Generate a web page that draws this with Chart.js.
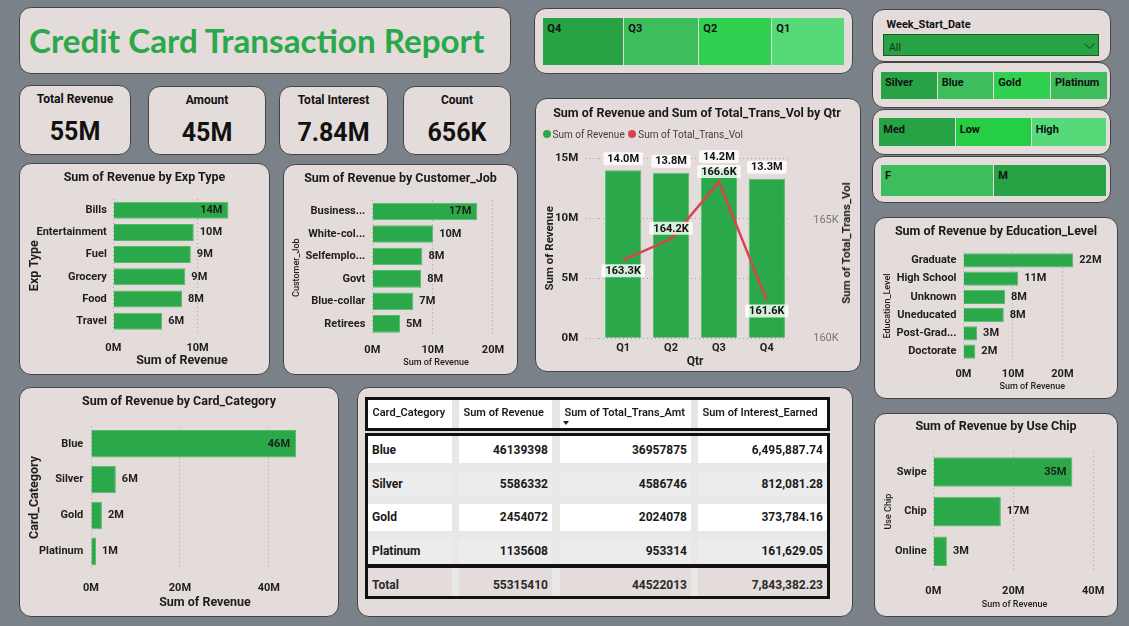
<!DOCTYPE html>
<html>
<head>
<meta charset="utf-8">
<script src="https://cdn.jsdelivr.net/npm/chart.js@4.4.1/dist/chart.umd.min.js"></script>
<style>
  html, body { margin: 0; padding: 0; }
  body { width: 1129px; height: 626px; background: #7b8189; position: relative; overflow: hidden;
         font-family: Roboto, "DejaVu Sans", sans-serif; color: #1e1e1e; }
  .panel { position: absolute; box-sizing: border-box; background: #e4dcda; border: 1px solid #444; border-radius: 12px; }
  .t { position: absolute; white-space: nowrap; line-height: 1; }
  .r { position: absolute; box-sizing: border-box; }
  .r svg { display: block; }
  canvas { position: absolute; }
</style>
</head>
<body>
<script>
// ---- data ----
const kpiLabels = ["Total Revenue", "Amount", "Total Interest", "Count"];
const kpiValues = ["55M", "45M", "7.84M", "656K"];

const quarters = ["Q1", "Q2", "Q3", "Q4"];
const qtrRevenue = [14.0e6, 13.8e6, 14.2e6, 13.3e6];
const qtrTransVol = [163300, 164200, 166600, 161600];
const revTicks = [0, 5e6, 10e6, 15e6];
const volTicks = [160000, 165000];

const expTypes = ["Bills", "Entertainment", "Fuel", "Grocery", "Food", "Travel"];
const expRevenue = [13.66e6, 9.55e6, 9.2e6, 8.55e6, 8.15e6, 5.8e6];
const expTicks = [0, 10e6];

const jobs = ["Business...", "White-col...", "Selfemplo...", "Govt", "Blue-collar", "Retirees"];
const jobRevenue = [17.4e6, 10.1e6, 8.3e6, 8.1e6, 6.8e6, 4.6e6];
const jobTicks = [0, 10e6, 20e6];

const eduLevels = ["Graduate", "High School", "Unknown", "Uneducated", "Post-Grad...", "Doctorate"];
const eduRevenue = [22.2e6, 11.05e6, 8.4e6, 8.15e6, 2.75e6, 2.4e6];
const eduTicks = [0, 10e6, 20e6];

const chipTypes = ["Swipe", "Chip", "Online"];
const chipRevenue = [34.8e6, 16.9e6, 3.4e6];
const chipTicks = [0, 20e6, 40e6];

const cardCategories = ["Blue", "Silver", "Gold", "Platinum"];
const cardRevenue = [46139398, 5586332, 2454072, 1135608];
const cardTransAmt = [36957875, 4586746, 2024078, 953314];
const cardInterest = [6495887.74, 812081.28, 373784.16, 161629.05];
const cardTicks = [0, 20e6, 40e6];

const qtrSlicer = ["Q4", "Q3", "Q2", "Q1"];
const cardSlicer = ["Silver", "Blue", "Gold", "Platinum"];
const incomeSlicer = ["Med", "Low", "High"];
const genderSlicer = ["F", "M"];

// ---- styles ----
const GREEN = "#2ba84a";
const RED = "#d9434f";
const GRID = "#aaa4a2";
const INK = "#1e1e1e";
Chart.defaults.font.family = "Roboto";
Chart.defaults.color = INK;

function rect(x, y, w, h, bg, extra) {
  const d = document.createElement("div");
  d.className = "r";
  d.style.cssText = `left:${x}px;top:${y}px;width:${w}px;height:${h}px;background:${bg};` + (extra || "");
  document.body.appendChild(d);
  return d;
}
function panel(x, y, w, h) {
  const d = rect(x, y, w, h, "#e4dcda");
  d.className = "panel";
  return d;
}
function txt(str, x, y, style, align) {
  const d = document.createElement("div");
  d.className = "t";
  d.textContent = str;
  d.style.cssText = style + `;left:${x}px;top:${y}px;`;
  const tx = align === "center" ? "-50%" : align === "right" ? "-100%" : "0";
  d.style.transform = `translate(${tx},-50%)`;
  document.body.appendChild(d);
  return d;
}
function canvasAt(x, y, w, h) {
  const c = document.createElement("canvas");
  c.width = w; c.height = h;
  c.style.cssText = `left:${x}px;top:${y}px;width:${w}px;height:${h}px;`;
  document.body.appendChild(c);
  return c;
}
const mFmt = v => v / 1e6 + "M";

// value labels at the end of horizontal bars
const hbarLabels = {
  id: "hbarLabels",
  afterDatasetsDraw(chart) {
    const { ctx, chartArea } = chart;
    const ds = chart.data.datasets[0];
    ctx.save();
    ctx.font = "bold 11px Roboto";
    ctx.fillStyle = INK;
    ctx.textBaseline = "middle";
    chart.getDatasetMeta(0).data.forEach((bar, i) => {
      const s = Math.round(ds.data[i] / 1e6) + "M";
      const w = ctx.measureText(s).width;
      if (bar.x + 6 + w <= chartArea.right + 4) {
        ctx.textAlign = "left"; ctx.fillText(s, bar.x + 6, bar.y);
      } else {
        ctx.textAlign = "right"; ctx.fillText(s, bar.x - 6, bar.y);
      }
    });
    ctx.restore();
  }
};

function hbar(c) {
  const [px, py, pw, ph] = c.box;
  const [l, t, r, b] = c.area;
  const tickLh = c.tickSize * 1.2;
  const xl = c.xTitle.size * 1.2, yl = c.yTitle.size * 1.2;
  new Chart(canvasAt(px, py, pw, ph), {
    type: "bar",
    data: {
      labels: c.labels,
      datasets: [{ data: c.values, backgroundColor: GREEN, borderColor: "#55bb69", borderWidth: 1,
                   barPercentage: c.barPct, categoryPercentage: 1 }]
    },
    options: {
      indexAxis: "y", responsive: false, animation: false,
      layout: { padding: { left: 0, top: t - py, right: px + pw - r, bottom: 0 } },
      plugins: { legend: { display: false }, tooltip: { enabled: false } },
      scales: {
        x: {
          min: 0, max: c.max,
          afterBuildTicks: s => { s.ticks = c.ticks.map(v => ({ value: v })); },
          afterFit: s => { s.height = py + ph - b; },
          ticks: { padding: c.xTickY - b - tickLh / 2, font: { size: c.tickSize, weight: "bold" }, color: INK, callback: mFmt },
          grid: { color: GRID, drawTicks: false },
          border: { display: false, dash: [1, 3] },
          title: { display: true, text: c.xTitle.text, color: INK,
                   font: { size: c.xTitle.size, weight: c.xTitle.weight },
                   padding: { top: 0, bottom: py + ph - c.xTitle.y - xl / 2 } }
        },
        y: {
          afterFit: s => { s.width = l - px; },
          ticks: { padding: c.catPad, font: { size: c.catSize, weight: "bold" }, color: INK },
          grid: { display: false, drawTicks: false },
          border: { display: false },
          title: { display: true, text: c.yTitle.text, color: INK,
                   font: { size: c.yTitle.size, weight: c.yTitle.weight },
                   padding: { top: c.yTitle.x - px - yl / 2, bottom: 0 } }
        }
      }
    },
    plugins: [hbarLabels]
  });
}

// ---- header + KPI cards ----
panel(19, 7, 492, 67);
txt("Credit Card Transaction Report", 29, 40, "font:700 33.2px Lato;color:#2aa84a");

const kpiBoxes = [[19, 85, 112, 70], [148, 86, 118, 69], [279, 86, 109, 69], [403, 86, 108, 69]];
kpiBoxes.forEach(([x, y, w, h], i) => {
  panel(x, y, w, h);
  txt(kpiLabels[i], x + w / 2, y + 13.5, "font:700 12px Roboto;color:#111", "center");
  txt(kpiValues[i], x + w / 2, y + 45.5, "font:700 25px Roboto;color:#111", "center");
});

// ---- slicers ----
function tiles(items, xs, y0, y1, colors, textY) {
  items.forEach((s, i) => {
    rect(xs[i][0], y0, xs[i][1] - xs[i][0], y1 - y0, colors[i]);
    txt(s, xs[i][0] + 4, textY, "font:700 11px Roboto;color:#111");
  });
}
panel(534, 8, 319, 66);
tiles(qtrSlicer, [[543.3, 623.3], [624.3, 698.3], [699.3, 771], [772.3, 844.3]], 17.7, 65,
      ["#27a345", "#3dbd5b", "#30d150", "#55d979"], 27.7);

panel(872, 9, 239, 53);
txt("Week_Start_Date", 886.5, 24.3, "font:700 11px Roboto;color:#111");
rect(883.3, 34, 216, 21.7, "#27a345", "border:1px solid #1d5a2b");
txt("All", 889, 46.7, "font:400 10.5px Roboto;color:#16301c");
const chev = rect(1084, 43, 11, 6, "transparent");
chev.innerHTML = '<svg width="11" height="6"><polyline points="0.5,0.5 5.5,5.5 10.5,0.5" fill="none" stroke="#1a3a22" stroke-width="1"/></svg>';

panel(872, 62, 239, 46);
tiles(cardSlicer, [[881, 936.7], [937.7, 993.3], [994.3, 1050], [1051, 1106.7]], 71.7, 99.3,
      ["#27a345", "#3dbd5b", "#31d050", "#3dbd5b"], 81.7);
panel(872, 109, 239, 46);
tiles(incomeSlicer, [[879.3, 954.7], [955.7, 1030.7], [1031.7, 1106]], 118.3, 146,
      ["#27a345", "#25ce44", "#55d979"], 129);
panel(872, 156, 239, 47);
tiles(genderSlicer, [[881, 993.3], [994.3, 1106]], 165, 195.7, ["#3dbd5b", "#27a345"], 175);

// ---- horizontal bar charts ----
const TITLE = "font:700 12.5px Roboto;color:#1a1a1a";

panel(19, 163, 251, 212);
hbar({ box: [19, 163, 251, 212], area: [113.3, 199.1, 250.7, 332.3],
       labels: expTypes, values: expRevenue, max: 16.3e6, ticks: expTicks,
       barPct: 0.766, catPad: 6.5, catSize: 11, tickSize: 11, xTickY: 348.3,
       xTitle: { text: "Sum of Revenue", y: 361.3, size: 12.5, weight: "bold" },
       yTitle: { text: "Exp Type", x: 35, size: 12.5, weight: "bold" } });
txt("Sum of Revenue by Exp Type", 144.5, 176, TITLE, "center");

panel(283, 164, 235, 211);
hbar({ box: [283, 164, 235, 211], area: [372.3, 200.3, 499.6, 335.1],
       labels: jobs, values: jobRevenue, max: 21.1e6, ticks: jobTicks,
       barPct: 0.787, catPad: 7, catSize: 11, tickSize: 11, xTickY: 350.7,
       xTitle: { text: "Sum of Revenue", y: 363, size: 9, weight: "500" },
       yTitle: { text: "Customer_Job", x: 296.7, size: 9, weight: "500" } });
txt("Sum of Revenue by Customer_Job", 400.5, 176.7, TITLE, "center");

panel(874, 217, 244, 182);
hbar({ box: [874, 217, 244, 182], area: [963.5, 251.35, 1101, 360.65],
       labels: eduLevels, values: eduRevenue, max: 27.8e6, ticks: eduTicks,
       barPct: 0.786, catPad: 7, catSize: 11, tickSize: 11, xTickY: 374.3,
       xTitle: { text: "Sum of Revenue", y: 387, size: 9, weight: "500" },
       yTitle: { text: "Education_Level", x: 887.3, size: 9, weight: "500" } });
txt("Sum of Revenue by Education_Level", 996, 230, TITLE, "center");

panel(874, 413, 244, 204);
hbar({ box: [874, 413, 244, 204], area: [933.3, 452.3, 1100, 571],
       labels: chipTypes, values: chipRevenue, max: 40.65e6, ticks: chipTicks,
       barPct: 0.747, catPad: 6.6, catSize: 11, tickSize: 11, xTickY: 591,
       xTitle: { text: "Sum of Revenue", y: 604.3, size: 9, weight: "500" },
       yTitle: { text: "Use Chip", x: 889, size: 9, weight: "500" } });
txt("Sum of Revenue by Use Chip", 996, 425, TITLE, "center");

panel(19, 387, 320, 230);
hbar({ box: [19, 387, 320, 230], area: [91, 425.9, 319, 569.15],
       labels: cardCategories, values: cardRevenue, max: 51.3e6, ticks: cardTicks,
       barPct: 0.768, catPad: 7.7, catSize: 11, tickSize: 11, xTickY: 588.3,
       xTitle: { text: "Sum of Revenue", y: 603.3, size: 12.5, weight: "bold" },
       yTitle: { text: "Card_Category", x: 35, size: 12.5, weight: "bold" } });
txt("Sum of Revenue by Card_Category", 179, 400, TITLE, "center");

// ---- combo chart: revenue bars + transaction volume line ----
const comboLabels = {
  id: "comboLabels",
  afterDatasetsDraw(chart, args, opts) {
    const ctx = chart.ctx;
    ctx.save();
    ctx.font = "bold 11px Roboto";
    ctx.textAlign = "center";
    ctx.textBaseline = "middle";
    const box = (s, x, cy) => {
      const w = ctx.measureText(s).width + 8;
      ctx.fillStyle = "rgba(255,255,255,0.8)";
      ctx.beginPath();
      ctx.roundRect(x - w / 2, cy - 6.5, w, 13, 2);
      ctx.fill();
      ctx.fillStyle = "#111";
      ctx.fillText(s, x, cy + 0.5);
    };
    chart.getDatasetMeta(0).data.forEach((el, i) => {
      box((qtrRevenue[i] / 1e6).toFixed(1) + "M", el.x, el.y - 5 - 6.5);
    });
    chart.getDatasetMeta(1).data.forEach((el, i) => {
      const cy = opts.place[i] === "above" ? el.y - 4 - 6.5 : el.y + 4 + 6.5;
      box((qtrTransVol[i] / 1000).toFixed(1) + "K", el.x, cy);
    });
    ctx.restore();
  }
};

panel(535, 98, 326, 274);
(function () {
  const px = 535, py = 98, pw = 326, ph = 274;
  const l = 599.25, t = 158.3, r = 790.75, b = 338.3;
  new Chart(canvasAt(px, py, pw, ph), {
    type: "bar",
    data: {
      labels: quarters,
      datasets: [
        { type: "bar", data: qtrRevenue, yAxisID: "y", backgroundColor: GREEN, borderColor: "#55bb69", borderWidth: 1,
          barPercentage: 0.758, categoryPercentage: 1, order: 1 },
        { type: "line", data: qtrTransVol, yAxisID: "y1", borderColor: RED, borderWidth: 2.5,
          pointRadius: 0, tension: 0, order: 0 }
      ]
    },
    options: {
      responsive: false, animation: false,
      layout: { padding: { left: 0, top: t - py, right: 0, bottom: 0 } },
      plugins: { legend: { display: false }, tooltip: { enabled: false },
                 comboLabels: { place: ["below", "above", "above", "below"] } },
      scales: {
        x: {
          afterFit: s => { s.height = py + ph - b; },
          ticks: { padding: 348.3 - b - 6.6, font: { size: 11, weight: "bold" }, color: INK },
          grid: { display: false, drawTicks: false }, border: { display: false },
          title: { display: true, text: "Qtr", color: INK, font: { size: 12, weight: "bold" },
                   padding: { top: 0, bottom: py + ph - 361.7 - 7.2 } }
        },
        y: {
          position: "left", min: 0, max: 15e6,
          afterBuildTicks: s => { s.ticks = revTicks.map(v => ({ value: v })); },
          afterFit: s => { s.width = l - px; },
          ticks: { padding: 7, font: { size: 11.5, weight: "bold" }, color: INK, callback: mFmt },
          grid: { color: GRID, drawTicks: true, tickLength: 14, tickColor: GRID, tickBorderDash: [1, 3] },
          border: { display: false, dash: [1, 3] },
          title: { display: true, text: "Sum of Revenue", color: INK, font: { size: 11.5, weight: "bold" },
                   padding: { top: 550 - px - 6.9, bottom: 0 } }
        },
        y1: {
          position: "right", min: 160000, max: 167600,
          afterBuildTicks: s => { s.ticks = volTicks.map(v => ({ value: v })); },
          afterFit: s => { s.width = px + pw - r; },
          ticks: { padding: 22.5, font: { size: 11 }, color: "#777", callback: v => v / 1000 + "K" },
          grid: { display: false, drawTicks: false }, border: { display: false },
          title: { display: false }
        }
      }
    },
    plugins: [comboLabels]
  });
})();
txt("Sum of Revenue and Sum of Total_Trans_Vol by Qtr", 697, 111.7, TITLE, "center");
// right-axis title reads bottom-to-top like the left one
txt("Sum of Total_Trans_Vol", 845.7, 242.5, "font:700 11.5px Roboto;color:#1e1e1e", "center")
  .style.transform = "translate(-50%,-50%) rotate(-90deg)";
rect(543.3, 130, 8, 8, GREEN, "border-radius:50%");
txt("Sum of Revenue", 552.5, 134, "font:400 10px Roboto;color:#404040");
rect(628, 130, 8, 8, RED, "border-radius:50%");
txt("Sum of Total_Trans_Vol", 638.3, 134, "font:400 10px Roboto;color:#404040");

// ---- table ----
panel(357, 387, 496, 230);
const cols = [[368, 452], [459, 552], [560, 691], [698, 827]];
const sum = a => a.reduce((s, v) => s + v, 0);
const money = v => v.toLocaleString("en-US", { minimumFractionDigits: 2, maximumFractionDigits: 2 });
const CELL = "font:700 12px Roboto;color:#1a1a1a";

rect(365, 396.7, 465, 34, "#e6e6e6", "border:3px solid #111");
cols.forEach(([a, z]) => rect(a, 399.7, z - a, 28, "#ffffff"));
["Card_Category", "Sum of Revenue", "Sum of Total_Trans_Amt", "Sum of Interest_Earned"].forEach((h, i) => {
  txt(h, cols[i][0] + 4.5, 412.3, "font:600 11px Roboto;color:#1a1a1a");
});
rect(563, 421, 0, 0, "transparent", "border-left:3px solid transparent;border-right:3px solid transparent;border-top:4px solid #222");

rect(365, 433.3, 465, 134, "#e8e8e8", "border:3px solid #111");
const rowBands = [[436.3, 463.3, "#ffffff"], [471, 496, "#ececec"], [504, 530.7, "#ffffff"], [538.3, 564.3, "#ececec"]];
cardCategories.forEach((cat, i) => {
  const [y0, y1, bg] = rowBands[i];
  cols.forEach(([a, z]) => rect(a, y0, z - a, y1 - y0, bg));
  const cy = (y0 + y1) / 2;
  txt(cat, cols[0][0] + 4, cy, CELL);
  txt(String(cardRevenue[i]), cols[1][1] - 4, cy, CELL, "right");
  txt(String(cardTransAmt[i]), cols[2][1] - 4, cy, CELL, "right");
  txt(money(cardInterest[i]), cols[3][1] - 4, cy, CELL, "right");
});

rect(365, 565, 465, 33.5, "#e8e8e8", "border:3px solid #111");
cols.forEach(([a, z]) => rect(a, 568, z - a, 27.5, "#e4dcda"));
const TOT = "font:700 12px Roboto;color:#2a2a2a";
txt("Total", cols[0][0] + 4, 585, TOT);
txt(String(sum(cardRevenue)), cols[1][1] - 4, 585, TOT, "right");
txt(String(sum(cardTransAmt)), cols[2][1] - 4, 585, TOT, "right");
txt(money(Math.round(sum(cardInterest) * 100) / 100), cols[3][1] - 4, 585, TOT, "right");
</script>
</body>
</html>
